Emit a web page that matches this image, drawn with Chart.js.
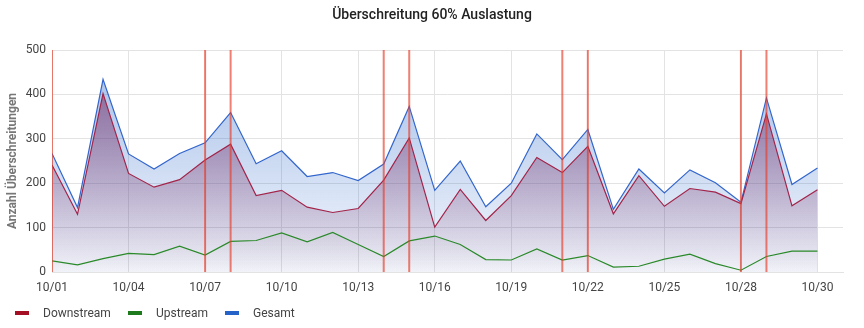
<!DOCTYPE html>
<html lang="de">
<head>
<meta charset="utf-8">
<title>Überschreitung 60% Auslastung</title>
<script src="https://cdn.jsdelivr.net/npm/chart.js@4.4.1/dist/chart.umd.min.js"></script>
<style>
  html, body { margin: 0; padding: 0; background: #fff; }
  #wrap { position: relative; width: 864px; height: 328px; }
  #title { position: absolute; left: 0; top: 6px; width: 864px; text-align: center; font: 500 14px Roboto, sans-serif; color: #222; }
  #legend { position: absolute; left: 0; top: 305px; width: 864px; height: 16px; font: 12px Roboto, sans-serif; color: #444; }
  .item { position: absolute; top: 0; display: flex; align-items: center; height: 16px; }
  .swatch { width: 14px; height: 4px; margin-right: 14px; }
</style>
</head>
<body>
<div id="wrap">
  <canvas id="chart" width="864" height="328"></canvas>
  <div id="title">Überschreitung 60% Auslastung</div>
  <div id="legend"></div>
</div>
<script>
// Tageslabels (10/28 doppelt wegen Zeitumstellung)
const days = ['10/01', '10/02', '10/03', '10/04', '10/05', '10/06', '10/07', '10/08', '10/09', '10/10',
              '10/11', '10/12', '10/13', '10/14', '10/15', '10/16', '10/17', '10/18', '10/19', '10/20',
              '10/21', '10/22', '10/23', '10/24', '10/25', '10/26', '10/27', '10/28', '10/28', '10/29', '10/30'];

const downstream = [241, 130, 402, 222, 191, 208, 252, 288, 172, 184,
                    146, 134, 143, 207, 302, 101, 186, 116, 172, 258,
                    224, 283, 131, 217, 148, 188, 180, 154, 356, 149, 185];
const upstream = [25, 16, 30, 42, 39, 58, 38, 69, 71, 88,
                  68, 89, 62, 35, 70, 81, 62, 28, 27, 52,
                  27, 37, 11, 13, 29, 40, 19, 4, 35, 47, 47];
const gesamt = [267, 145, 434, 266, 232, 267, 291, 359, 244, 273,
                215, 224, 206, 243, 373, 184, 250, 147, 200, 311,
                253, 321, 141, 232, 178, 230, 201, 157, 392, 197, 234];

// Tage mit Markierung (Index in days)
const markedDays = [0, 6, 7, 13, 14, 20, 21, 27, 28];

const yTicks = [0, 100, 200, 300, 400, 500];

const series = [
  { label: 'Downstream', color: '#a50f24' },
  { label: 'Upstream', color: '#1d7a1d' },
  { label: 'Gesamt', color: '#2563c9' }
];

function gradient(ctx, top, bottom) {
  const area = ctx.chart.chartArea;
  if (!area) return top;
  const g = ctx.chart.ctx.createLinearGradient(0, area.top, 0, area.bottom);
  g.addColorStop(0, top);
  g.addColorStop(1, bottom);
  return g;
}

function points(arr) {
  return arr.map((v, i) => ({ x: i, y: v }));
}

// senkrechte Linien: je Tag von 0 bis Max, danach Lücke
const markerPoints = [];
markedDays.forEach(i => {
  markerPoints.push({ x: i, y: yTicks[0] });
  markerPoints.push({ x: i, y: yTicks[yTicks.length - 1] });
  markerPoints.push({ x: i, y: null });
});

const ctx = document.getElementById('chart').getContext('2d');

new Chart(ctx, {
  type: 'line',
  data: {
    datasets: [
      {
        label: 'Markierung',
        data: markerPoints,
        borderColor: 'rgba(230, 60, 40, 0.65)',
        borderWidth: 2,
        fill: false,
        spanGaps: false,
        order: 0
      },
      {
        label: 'Upstream',
        data: points(upstream),
        borderColor: '#2a8a2a',
        borderWidth: 1.2,
        fill: 'origin',
        backgroundColor: c => gradient(c, 'rgba(90, 95, 90, 0.3)', 'rgba(90, 95, 90, 0.0)'),
        order: 1
      },
      {
        label: 'Downstream',
        data: points(downstream),
        borderColor: '#a3244a',
        borderWidth: 1.2,
        fill: 'origin',
        backgroundColor: c => gradient(c, 'rgba(105, 25, 85, 0.62)', 'rgba(105, 25, 85, 0.02)'),
        order: 2
      },
      {
        label: 'Gesamt',
        data: points(gesamt),
        borderColor: '#3366cc',
        borderWidth: 1.2,
        fill: 'origin',
        backgroundColor: c => gradient(c, 'rgba(37, 99, 201, 0.42)', 'rgba(37, 99, 201, 0.05)'),
        order: 3
      }
    ]
  },
  options: {
    responsive: false,
    animation: false,
    layout: { padding: { left: 0, right: 21, top: 50, bottom: 32 } },
    elements: { point: { radius: 0 }, line: { tension: 0 } },
    plugins: {
      legend: { display: false },
      tooltip: { enabled: false }
    },
    scales: {
      x: {
        type: 'linear',
        min: 0,
        max: days.length,
        offset: false,
        grid: {
          color: '#e3e3e3',
          drawTicks: false
        },
        border: { color: '#e3e3e3' },
        ticks: {
          stepSize: 3,
          includeBounds: false,
          autoSkip: false,
          maxRotation: 0,
          padding: 9,
          color: '#444',
          font: { family: 'Roboto', size: 12 },
          callback: v => (v < days.length ? days[v] : null)
        },
        afterFit: s => { s.height = 24; }
      },
      y: {
        min: 0,
        max: 500,
        grid: { color: '#e3e3e3', drawTicks: false },
        border: { display: false },
        afterBuildTicks: s => { s.ticks = yTicks.map(v => ({ value: v })); },
        ticks: {
          padding: 6,
          color: '#444',
          font: { family: 'Roboto', size: 12 }
        },
        title: {
          display: true,
          text: 'Anzahl Überschreitungen',
          color: '#777',
          font: { family: 'Roboto', size: 12, weight: 'bold' },
          padding: { top: 6, bottom: 0 }
        },
        afterFit: s => { s.width = 52; }
      }
    }
  }
});

// Legende
const legend = document.getElementById('legend');
const lefts = [15, 128, 225];
series.forEach((s, i) => {
  const item = document.createElement('div');
  item.className = 'item';
  item.style.left = lefts[i] + 'px';
  const sw = document.createElement('span');
  sw.className = 'swatch';
  sw.style.background = s.color;
  const txt = document.createElement('span');
  txt.textContent = s.label;
  item.appendChild(sw);
  item.appendChild(txt);
  legend.appendChild(item);
});
</script>
</body>
</html>
